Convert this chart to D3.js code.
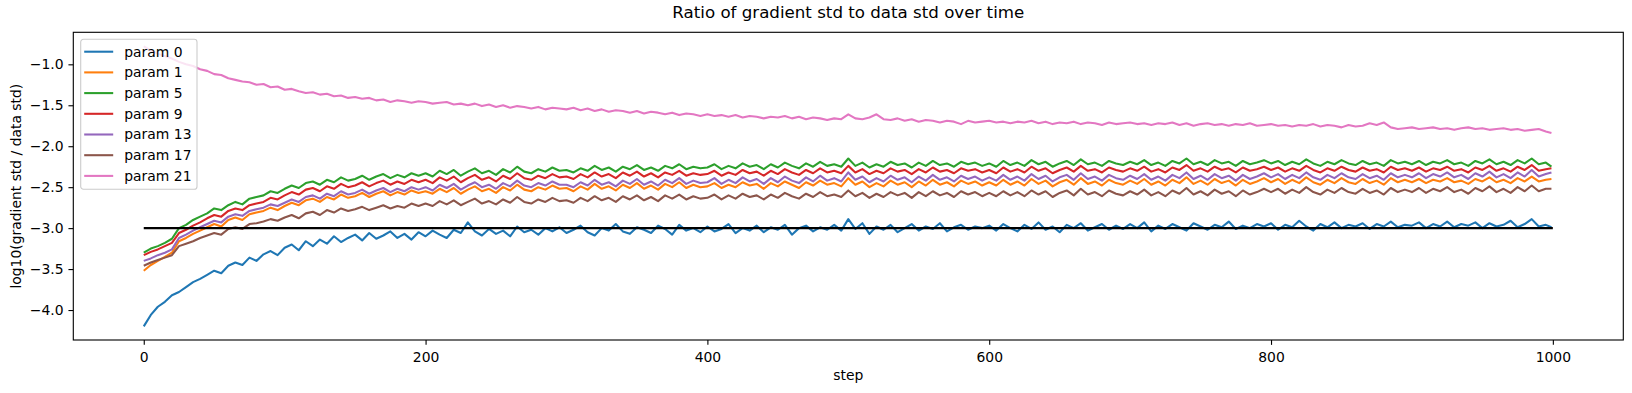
<!DOCTYPE html>
<html lang="en">
<head>
    <meta charset="UTF-8">
    <title>Ratio of gradient std to data std over time</title>
    <script src="https://d3js.org/d3.v7.min.js"></script>
    <style>
        body { margin: 0; background: #fff; }
        svg { display: block; font-family: "DejaVu Sans", sans-serif; }
    </style>
</head>
<body>
    <svg width="1632" height="393"></svg>

    <script>
        const steps = d3.range(0, 1000, 5).concat(999);

        const param0 = [
            -4.20,-4.06,-3.96,-3.90,-3.82,-3.78,-3.72,-3.66,-3.62,-3.57,-3.52,-3.55,-3.46,-3.42,-3.45,-3.36,-3.40,-3.32,-3.28,-3.33,
            -3.24,-3.20,-3.27,-3.16,-3.22,-3.14,-3.19,-3.10,-3.17,-3.12,-3.08,-3.15,-3.06,-3.13,-3.09,-3.04,-3.12,-3.07,-3.14,-3.05,
            -3.10,-3.03,-3.08,-3.12,-3.02,-3.06,-2.93,-3.04,-3.09,-3.01,-3.07,-3.03,-3.10,-2.98,-3.05,-3.02,-3.08,-3.00,-3.04,-2.99,
            -3.06,-3.02,-2.97,-3.05,-3.09,-3.00,-3.03,-2.95,-3.04,-3.07,-2.99,-3.02,-3.06,-2.97,-3.01,-3.08,-2.96,-3.03,-3.00,-3.05,
            -2.98,-3.04,-3.01,-2.95,-3.06,-3.00,-3.03,-2.97,-3.05,-2.99,-3.02,-2.96,-3.08,-3.00,-2.97,-3.04,-2.99,-3.02,-2.96,-3.03,
            -2.89,-3.01,-2.94,-3.07,-2.98,-3.02,-2.96,-3.05,-3.00,-2.95,-3.03,-2.98,-3.01,-2.94,-3.04,-2.99,-2.96,-3.02,-2.98,-3.00,
            -2.97,-3.03,-2.95,-3.00,-3.04,-2.96,-3.01,-2.93,-3.02,-2.98,-3.05,-2.96,-3.00,-2.94,-3.03,-2.99,-2.95,-3.02,-2.97,-3.01,
            -2.95,-3.00,-2.93,-3.04,-2.97,-3.01,-2.95,-2.99,-3.03,-2.94,-2.98,-3.02,-2.96,-2.99,-2.92,-3.01,-2.97,-3.00,-2.95,-2.98,
            -2.94,-3.02,-2.96,-2.99,-2.91,-2.98,-3.03,-2.95,-2.99,-2.93,-3.00,-2.96,-2.98,-2.94,-3.01,-2.95,-2.98,-2.92,-2.99,-2.96,
            -2.97,-2.93,-3.00,-2.95,-2.98,-2.92,-2.99,-2.95,-2.97,-2.93,-3.00,-2.94,-2.98,-2.96,-2.91,-2.99,-2.95,-2.89,-2.98,-2.96,
            -2.99
        ];
        const param1 = [
            -3.52,-3.45,-3.40,-3.35,-3.30,-3.16,-3.12,-3.07,-3.03,-2.99,-2.95,-2.98,-2.90,-2.87,-2.90,-2.83,-2.81,-2.79,-2.75,-2.78,
            -2.73,-2.69,-2.72,-2.66,-2.64,-2.68,-2.62,-2.65,-2.59,-2.63,-2.61,-2.57,-2.62,-2.58,-2.55,-2.60,-2.56,-2.59,-2.54,-2.57,
            -2.55,-2.58,-2.52,-2.56,-2.51,-2.58,-2.53,-2.49,-2.55,-2.52,-2.57,-2.50,-2.54,-2.47,-2.53,-2.55,-2.50,-2.53,-2.48,-2.52,
            -2.51,-2.55,-2.49,-2.53,-2.46,-2.52,-2.49,-2.54,-2.47,-2.51,-2.45,-2.52,-2.48,-2.53,-2.46,-2.50,-2.44,-2.51,-2.47,-2.50,
            -2.49,-2.45,-2.51,-2.47,-2.50,-2.44,-2.48,-2.46,-2.52,-2.45,-2.49,-2.43,-2.47,-2.51,-2.44,-2.48,-2.42,-2.47,-2.45,-2.49,
            -2.39,-2.47,-2.43,-2.50,-2.45,-2.49,-2.42,-2.47,-2.44,-2.50,-2.43,-2.48,-2.41,-2.47,-2.44,-2.49,-2.42,-2.46,-2.43,-2.48,
            -2.44,-2.48,-2.41,-2.47,-2.43,-2.48,-2.40,-2.46,-2.42,-2.49,-2.44,-2.41,-2.47,-2.39,-2.46,-2.43,-2.48,-2.41,-2.45,-2.47,
            -2.42,-2.46,-2.40,-2.47,-2.43,-2.48,-2.41,-2.45,-2.38,-2.46,-2.42,-2.47,-2.40,-2.45,-2.42,-2.48,-2.41,-2.46,-2.43,-2.39,
            -2.44,-2.40,-2.46,-2.41,-2.45,-2.38,-2.44,-2.47,-2.41,-2.45,-2.39,-2.44,-2.46,-2.40,-2.45,-2.42,-2.47,-2.39,-2.44,-2.41,
            -2.44,-2.40,-2.45,-2.41,-2.43,-2.39,-2.44,-2.42,-2.46,-2.40,-2.43,-2.38,-2.44,-2.41,-2.45,-2.39,-2.43,-2.37,-2.43,-2.41,
            -2.40
        ];
        const param5 = [
            -3.30,-3.25,-3.22,-3.18,-3.13,-3.00,-2.96,-2.90,-2.86,-2.82,-2.76,-2.78,-2.72,-2.68,-2.71,-2.64,-2.62,-2.60,-2.55,-2.57,
            -2.52,-2.48,-2.51,-2.45,-2.43,-2.47,-2.41,-2.44,-2.38,-2.42,-2.40,-2.36,-2.41,-2.37,-2.34,-2.39,-2.35,-2.38,-2.33,-2.36,
            -2.33,-2.37,-2.30,-2.34,-2.29,-2.36,-2.31,-2.27,-2.33,-2.30,-2.35,-2.28,-2.32,-2.25,-2.31,-2.33,-2.28,-2.31,-2.26,-2.30,
            -2.29,-2.32,-2.27,-2.30,-2.24,-2.29,-2.26,-2.31,-2.25,-2.28,-2.23,-2.29,-2.26,-2.30,-2.24,-2.27,-2.22,-2.28,-2.25,-2.27,
            -2.26,-2.22,-2.28,-2.24,-2.27,-2.21,-2.25,-2.23,-2.28,-2.22,-2.26,-2.20,-2.24,-2.27,-2.21,-2.25,-2.19,-2.24,-2.22,-2.25,
            -2.15,-2.24,-2.20,-2.26,-2.22,-2.25,-2.19,-2.23,-2.21,-2.26,-2.20,-2.24,-2.18,-2.23,-2.21,-2.25,-2.19,-2.22,-2.20,-2.24,
            -2.21,-2.25,-2.18,-2.23,-2.20,-2.24,-2.17,-2.22,-2.19,-2.25,-2.21,-2.18,-2.23,-2.16,-2.22,-2.20,-2.24,-2.18,-2.21,-2.23,
            -2.19,-2.22,-2.17,-2.23,-2.20,-2.24,-2.18,-2.21,-2.15,-2.22,-2.19,-2.23,-2.17,-2.21,-2.19,-2.24,-2.18,-2.22,-2.20,-2.17,
            -2.21,-2.18,-2.23,-2.19,-2.22,-2.16,-2.21,-2.24,-2.19,-2.22,-2.17,-2.21,-2.23,-2.18,-2.22,-2.20,-2.24,-2.17,-2.21,-2.19,
            -2.22,-2.18,-2.23,-2.19,-2.21,-2.17,-2.22,-2.20,-2.24,-2.18,-2.21,-2.16,-2.22,-2.19,-2.23,-2.17,-2.21,-2.15,-2.22,-2.20,
            -2.25
        ];
        const param9 = [
            -3.33,-3.29,-3.26,-3.22,-3.18,-3.06,-3.02,-2.97,-2.93,-2.88,-2.84,-2.86,-2.79,-2.76,-2.78,-2.72,-2.70,-2.68,-2.63,-2.65,
            -2.60,-2.56,-2.59,-2.53,-2.51,-2.55,-2.49,-2.52,-2.46,-2.50,-2.48,-2.44,-2.49,-2.45,-2.42,-2.47,-2.43,-2.46,-2.41,-2.44,
            -2.41,-2.45,-2.38,-2.42,-2.37,-2.44,-2.39,-2.35,-2.41,-2.38,-2.43,-2.36,-2.40,-2.33,-2.39,-2.41,-2.36,-2.39,-2.34,-2.38,
            -2.37,-2.40,-2.34,-2.38,-2.32,-2.37,-2.34,-2.39,-2.32,-2.36,-2.31,-2.37,-2.33,-2.38,-2.32,-2.35,-2.30,-2.36,-2.33,-2.35,
            -2.34,-2.30,-2.36,-2.32,-2.35,-2.29,-2.33,-2.31,-2.36,-2.30,-2.34,-2.28,-2.32,-2.35,-2.29,-2.33,-2.27,-2.32,-2.30,-2.33,
            -2.24,-2.32,-2.28,-2.34,-2.30,-2.33,-2.27,-2.31,-2.29,-2.34,-2.28,-2.32,-2.26,-2.31,-2.29,-2.33,-2.27,-2.30,-2.28,-2.32,
            -2.29,-2.33,-2.26,-2.31,-2.28,-2.32,-2.25,-2.30,-2.27,-2.33,-2.29,-2.26,-2.31,-2.24,-2.30,-2.28,-2.32,-2.26,-2.29,-2.31,
            -2.27,-2.30,-2.25,-2.31,-2.28,-2.32,-2.26,-2.29,-2.23,-2.30,-2.27,-2.31,-2.25,-2.29,-2.27,-2.32,-2.26,-2.30,-2.28,-2.25,
            -2.29,-2.26,-2.31,-2.27,-2.30,-2.24,-2.29,-2.32,-2.27,-2.30,-2.25,-2.29,-2.31,-2.26,-2.30,-2.28,-2.32,-2.25,-2.29,-2.27,
            -2.30,-2.26,-2.31,-2.27,-2.29,-2.25,-2.30,-2.28,-2.32,-2.26,-2.29,-2.24,-2.30,-2.27,-2.31,-2.25,-2.29,-2.23,-2.30,-2.28,
            -2.27
        ];
        const param13 = [
            -3.40,-3.37,-3.33,-3.30,-3.26,-3.12,-3.08,-3.03,-2.99,-2.95,-2.91,-2.93,-2.86,-2.83,-2.85,-2.79,-2.77,-2.75,-2.71,-2.73,
            -2.69,-2.65,-2.68,-2.62,-2.60,-2.64,-2.58,-2.61,-2.55,-2.59,-2.57,-2.53,-2.58,-2.54,-2.51,-2.56,-2.52,-2.55,-2.50,-2.53,
            -2.50,-2.54,-2.47,-2.51,-2.46,-2.53,-2.48,-2.44,-2.50,-2.47,-2.52,-2.45,-2.49,-2.42,-2.48,-2.50,-2.45,-2.48,-2.43,-2.47,
            -2.47,-2.50,-2.44,-2.48,-2.41,-2.47,-2.44,-2.49,-2.42,-2.46,-2.40,-2.47,-2.43,-2.48,-2.41,-2.45,-2.39,-2.46,-2.42,-2.45,
            -2.44,-2.39,-2.46,-2.41,-2.45,-2.38,-2.43,-2.40,-2.46,-2.39,-2.44,-2.37,-2.42,-2.45,-2.38,-2.43,-2.36,-2.42,-2.39,-2.43,
            -2.32,-2.41,-2.37,-2.44,-2.39,-2.43,-2.36,-2.41,-2.38,-2.44,-2.37,-2.42,-2.35,-2.41,-2.38,-2.43,-2.36,-2.40,-2.37,-2.42,
            -2.38,-2.42,-2.35,-2.41,-2.37,-2.42,-2.34,-2.40,-2.36,-2.43,-2.38,-2.35,-2.41,-2.33,-2.40,-2.37,-2.42,-2.35,-2.39,-2.41,
            -2.36,-2.40,-2.34,-2.41,-2.37,-2.42,-2.35,-2.39,-2.32,-2.40,-2.36,-2.41,-2.34,-2.39,-2.36,-2.42,-2.35,-2.40,-2.37,-2.33,
            -2.38,-2.34,-2.40,-2.35,-2.39,-2.32,-2.38,-2.41,-2.35,-2.39,-2.33,-2.38,-2.40,-2.34,-2.39,-2.36,-2.41,-2.33,-2.38,-2.35,
            -2.38,-2.33,-2.39,-2.34,-2.37,-2.32,-2.38,-2.35,-2.40,-2.33,-2.37,-2.31,-2.38,-2.34,-2.39,-2.32,-2.37,-2.29,-2.37,-2.34,
            -2.32
        ];
        const param17 = [
            -3.46,-3.42,-3.39,-3.36,-3.33,-3.22,-3.19,-3.16,-3.12,-3.09,-3.06,-3.08,-3.01,-2.99,-3.01,-2.95,-2.94,-2.92,-2.89,-2.91,
            -2.87,-2.84,-2.88,-2.82,-2.80,-2.84,-2.78,-2.81,-2.76,-2.79,-2.77,-2.74,-2.78,-2.75,-2.72,-2.76,-2.73,-2.75,-2.70,-2.73,
            -2.70,-2.73,-2.67,-2.71,-2.66,-2.72,-2.68,-2.64,-2.70,-2.67,-2.71,-2.65,-2.69,-2.62,-2.68,-2.70,-2.65,-2.68,-2.63,-2.67,
            -2.66,-2.69,-2.63,-2.67,-2.61,-2.66,-2.63,-2.68,-2.61,-2.65,-2.60,-2.66,-2.62,-2.67,-2.60,-2.64,-2.59,-2.65,-2.61,-2.64,
            -2.63,-2.59,-2.65,-2.60,-2.64,-2.58,-2.62,-2.60,-2.65,-2.59,-2.63,-2.57,-2.61,-2.64,-2.58,-2.62,-2.56,-2.61,-2.59,-2.62,
            -2.54,-2.61,-2.57,-2.63,-2.58,-2.62,-2.56,-2.60,-2.57,-2.63,-2.56,-2.61,-2.55,-2.60,-2.57,-2.62,-2.55,-2.59,-2.56,-2.61,
            -2.57,-2.61,-2.55,-2.60,-2.56,-2.61,-2.54,-2.59,-2.55,-2.62,-2.57,-2.54,-2.60,-2.52,-2.59,-2.56,-2.61,-2.54,-2.58,-2.60,
            -2.55,-2.59,-2.53,-2.60,-2.56,-2.61,-2.54,-2.58,-2.51,-2.59,-2.55,-2.60,-2.53,-2.58,-2.55,-2.61,-2.54,-2.59,-2.56,-2.52,
            -2.56,-2.52,-2.58,-2.53,-2.57,-2.50,-2.56,-2.59,-2.53,-2.57,-2.51,-2.56,-2.58,-2.52,-2.57,-2.54,-2.59,-2.51,-2.56,-2.53,
            -2.56,-2.51,-2.57,-2.52,-2.55,-2.50,-2.56,-2.53,-2.58,-2.51,-2.55,-2.49,-2.56,-2.52,-2.57,-2.50,-2.55,-2.48,-2.55,-2.52,
            -2.52
        ];
        const param21 = [
            -0.78,-0.83,-0.87,-0.90,-0.93,-0.97,-1.00,-1.02,-1.06,-1.08,-1.12,-1.13,-1.17,-1.19,-1.21,-1.22,-1.25,-1.24,-1.28,-1.27,
            -1.31,-1.30,-1.33,-1.35,-1.34,-1.37,-1.36,-1.39,-1.38,-1.41,-1.40,-1.42,-1.41,-1.44,-1.43,-1.46,-1.44,-1.45,-1.47,-1.45,
            -1.46,-1.48,-1.47,-1.46,-1.49,-1.48,-1.50,-1.48,-1.51,-1.49,-1.52,-1.50,-1.53,-1.51,-1.52,-1.54,-1.52,-1.55,-1.53,-1.54,
            -1.55,-1.53,-1.56,-1.54,-1.57,-1.55,-1.58,-1.56,-1.57,-1.59,-1.57,-1.60,-1.58,-1.59,-1.61,-1.59,-1.62,-1.60,-1.61,-1.63,
            -1.61,-1.63,-1.62,-1.64,-1.62,-1.65,-1.63,-1.64,-1.66,-1.64,-1.65,-1.63,-1.66,-1.64,-1.67,-1.65,-1.66,-1.68,-1.66,-1.67,
            -1.61,-1.66,-1.67,-1.65,-1.61,-1.67,-1.68,-1.66,-1.69,-1.67,-1.70,-1.68,-1.69,-1.71,-1.69,-1.70,-1.73,-1.69,-1.71,-1.70,
            -1.69,-1.71,-1.70,-1.72,-1.70,-1.71,-1.69,-1.72,-1.70,-1.73,-1.71,-1.72,-1.70,-1.73,-1.71,-1.72,-1.74,-1.71,-1.73,-1.72,
            -1.71,-1.73,-1.72,-1.74,-1.72,-1.73,-1.71,-1.74,-1.72,-1.75,-1.73,-1.72,-1.74,-1.73,-1.75,-1.73,-1.74,-1.72,-1.75,-1.74,
            -1.73,-1.75,-1.74,-1.76,-1.74,-1.75,-1.73,-1.76,-1.74,-1.75,-1.77,-1.74,-1.76,-1.75,-1.72,-1.74,-1.71,-1.77,-1.79,-1.78,
            -1.77,-1.79,-1.78,-1.77,-1.79,-1.78,-1.80,-1.78,-1.77,-1.79,-1.78,-1.80,-1.79,-1.78,-1.80,-1.79,-1.81,-1.80,-1.79,-1.82,
            -1.84
        ];

        const names = ['param 0', 'param 1', 'param 5', 'param 9', 'param 13', 'param 17', 'param 21'];
        const colors = ['#1f77b4', '#ff7f0e', '#2ca02c', '#d62728', '#9467bd', '#8c564b', '#e377c2'];
        const seriesValues = [param0, param1, param5, param9, param13, param17, param21];
        const refLevel = -3;
        const refRange = [0, 1000];
        const xTicks = [0, 200, 400, 600, 800, 1000];
        const yTicks = [-4.0, -3.5, -3.0, -2.5, -2.0, -1.5, -1.0];

        const svg = d3.select('svg');
        const plotLeft = 73.3, plotRight = 1623.3, plotTop = 32.3, plotBottom = 340;
        const fontSize = 13.9;   // 10pt at 100 dpi
        const lineW = 2.08;      // 1.5pt

        const x = d3.scaleLinear().domain([-50, 1050]).range([plotLeft, plotRight]);
        const y = d3.scaleLinear().domain([-4.366, -0.609]).range([plotBottom, plotTop]);

        const line = d3.line().x(d => x(d[0])).y(d => y(d[1]));

        const plot = svg.append('g');
        seriesValues.forEach((vals, i) => {
            plot.append('path')
                .datum(steps.map((s, j) => [s, vals[j]]))
                .attr('fill', 'none')
                .attr('stroke', colors[i])
                .attr('stroke-width', lineW)
                .attr('stroke-linejoin', 'round')
                .attr('d', line);
        });

        plot.append('path')
            .datum(refRange.map(s => [s, refLevel]))
            .attr('fill', 'none')
            .attr('stroke', '#000')
            .attr('stroke-width', lineW)
            .attr('d', line);

        const fmt = v => d3.format('.1f')(v).replace('-', '\u2212');

        const xAxis = svg.append('g')
            .attr('transform', `translate(0,${plotBottom})`)
            .call(d3.axisBottom(x).tickValues(xTicks).tickSize(4.86).tickPadding(7).tickFormat(d3.format('d')));
        const yAxis = svg.append('g')
            .attr('transform', `translate(${plotLeft},0)`)
            .call(d3.axisLeft(y).tickValues(yTicks).tickSize(4.86).tickPadding(4.86).tickFormat(fmt));

        [xAxis, yAxis].forEach(a => {
            a.select('.domain').remove();
            a.selectAll('text').attr('font-size', fontSize).attr('font-family', 'DejaVu Sans').attr('fill', '#000');
            a.selectAll('line').attr('stroke', '#000').attr('stroke-width', 1.11);
        });

        svg.append('rect')
            .attr('x', plotLeft).attr('y', plotTop)
            .attr('width', plotRight - plotLeft).attr('height', plotBottom - plotTop)
            .attr('fill', 'none').attr('stroke', '#000').attr('stroke-width', 1.11);

        svg.append('text')
            .attr('x', (plotLeft + plotRight) / 2).attr('y', 18)
            .attr('text-anchor', 'middle')
            .attr('font-size', 16.67)
            .text('Ratio of gradient std to data std over time');

        svg.append('text')
            .attr('x', (plotLeft + plotRight) / 2).attr('y', 380)
            .attr('text-anchor', 'middle')
            .attr('font-size', fontSize)
            .text('step');

        svg.append('text')
            .attr('transform', `translate(21,${(plotTop + plotBottom) / 2}) rotate(-90)`)
            .attr('text-anchor', 'middle')
            .attr('font-size', fontSize)
            .text('log10(gradient std / data std)');

        // legend
        const legend = svg.append('g').attr('transform', 'translate(80.7,39.3)');
        legend.append('rect')
            .attr('width', 116.3).attr('height', 150)
            .attr('rx', 2.8)
            .attr('fill', 'rgba(255,255,255,0.8)')
            .attr('stroke', '#cccccc').attr('stroke-width', 1.1);

        const item = legend.selectAll('.item')
            .data(names)
            .join('g')
            .attr('transform', (d, i) => `translate(0,${12.4 + i * 20.7})`);
        item.append('line')
            .attr('x1', 3.5).attr('x2', 32.5)
            .attr('stroke', (d, i) => colors[i])
            .attr('stroke-width', lineW);
        item.append('text')
            .attr('x', 43.6).attr('dy', '0.35em')
            .attr('font-size', fontSize)
            .text(d => d);
    </script>
</body>
</html>
